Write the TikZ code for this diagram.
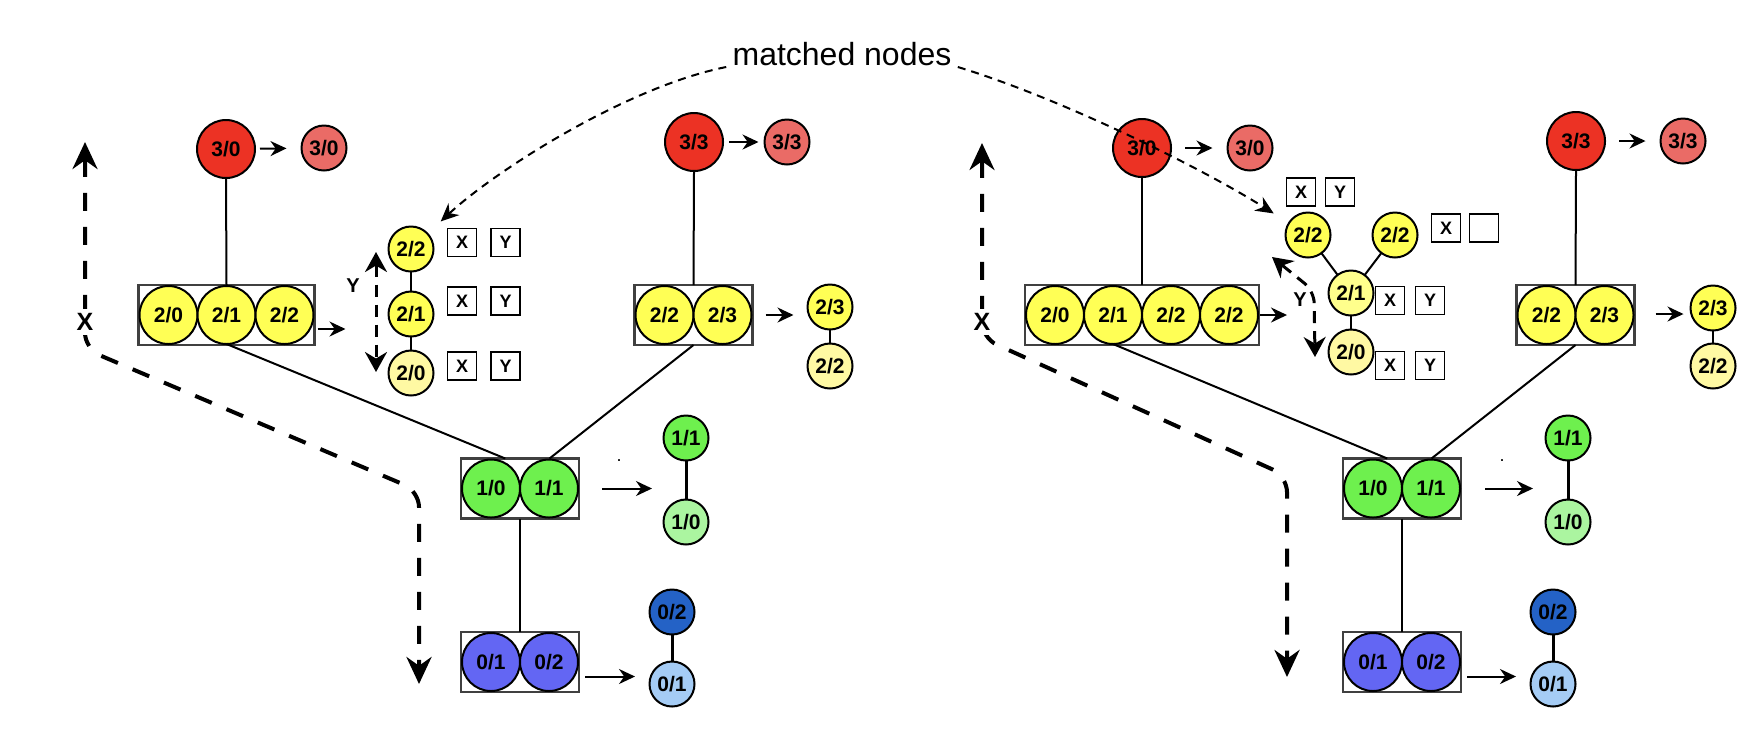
\documentclass[tikz,border=0pt]{standalone}
\usepackage{fontspec}
\setmainfont{Liberation Sans}
\usepackage{tikz}
\usetikzlibrary{arrows.meta,calc,positioning}
\definecolor{redfill}{HTML}{EC3224}
\definecolor{pinkfill}{HTML}{EA6B66}
\definecolor{yellowfill}{HTML}{FFFF55}
\definecolor{midyellow}{HTML}{FFFF8C}
\definecolor{paleyellow}{HTML}{FFF9A3}
\definecolor{greenfill}{HTML}{6EF04E}
\definecolor{palegreen}{HTML}{ABF5A0}
\definecolor{bluefill}{HTML}{6366F3}
\definecolor{navyfill}{HTML}{2462C6}
\definecolor{skyfill}{HTML}{A5CCF5}
\newcommand{\circtext}{\fontsize{10.5}{12}\selectfont\bfseries}
\newcommand{\flagtext}{\fontsize{9}{10}\selectfont\bfseries}
\tikzstyle{bignode}=[
  circle,
  draw=black,
  font=\circtext,
  inner sep=0pt,
  line width=1pt,
  minimum size=29pt,
  outer sep=0pt,
]
\tikzstyle{smallnode}=[
  circle,
  draw=black,
  font=\circtext,
  inner sep=0pt,
  line width=1pt,
  minimum size=22.5pt,
  outer sep=0pt,
]
\tikzstyle{holder}=[
  rectangle,
  draw=black!75,
  fill=white,
  inner sep=0pt,
  line width=1.3pt,
  minimum height=30pt,
  outer sep=0pt,
]
\tikzstyle{flag}=[
  rectangle,
  draw=black,
  fill=white,
  font=\flagtext,
  inner sep=0pt,
  line width=0.75pt,
  minimum height=14pt,
  minimum width=14.5pt,
]
\tikzstyle{link}=[
  draw=black,
  line width=1pt,
]
\tikzstyle{arrow}=[
  draw=black,
  line width=1pt,
  ->,
]
\tikzstyle{sweep}=[
  draw=black,
  line width=2pt,
  dash pattern=on 9pt off 8pt,
  rounded corners=8pt,
  >={Stealth[length=13.5pt,width=12.5pt]},
  <->,
]
\tikzstyle{yaxis}=[
  draw=black,
  line width=1.5pt,
  dash pattern=on 6pt off 4pt,
  >={Stealth[length=10pt,width=11pt]},
  <->,
]
\tikzstyle{matchline}=[
  draw=black,
  line width=1pt,
  dash pattern=on 4pt off 3pt,
  >={Stealth[length=9pt,width=8pt]},
  ->,
  shorten >=9pt,
]
\tikzstyle{xlabel}=[
  font={\fontsize{12.5}{14}\selectfont\bfseries},
  inner sep=2pt,
]
\tikzstyle{ylabel}=[
  font={\fontsize{10}{12}\selectfont\bfseries},
  inner sep=1pt,
]
\tikzset{
  node distance=0pt,
  >={Stealth[length=8pt,width=7.5pt]},
}
\begin{document}
\begin{tikzpicture}[x=0.5pt, y=-0.5pt]
  \fill [white] (0,0) rectangle (1754,730);
  \useasboundingbox (0,0) rectangle (1754,730);

  % left tree
  \node (L30) [bignode, fill=redfill] at (226,149) {3/0};
  \node (L30b) [smallnode, fill=pinkfill] at (324,148) {3/0};
  \node (Lb2) [holder, minimum width=88pt] at (226.5,315) {};
  \node (L20) [bignode, fill=yellowfill, right=0.5pt of Lb2.west] {2/0};
  \node (L21) [bignode, fill=yellowfill, right=0pt of L20] {2/1};
  \node (L22) [bignode, fill=yellowfill, right=0pt of L21] {2/2};
  \node (Lc22) [smallnode, fill=yellowfill] at (411,249) {2/2};
  \node (Lc21) [smallnode, fill=yellowfill] at (411,314) {2/1};
  \node (Lc20) [smallnode, fill=paleyellow] at (411,373) {2/0};
  \node (LfX2) [flag] at (462,242.5) {X};
  \node (LfY2) [flag] at (505.5,242.5) {Y};
  \node (LfX1) [flag] at (462,301) {X};
  \node (LfY1) [flag] at (505.5,301) {Y};
  \node (LfX0) [flag] at (462,366) {X};
  \node (LfY0) [flag] at (505.5,366) {Y};
  \node (L33) [bignode, fill=redfill] at (694,142) {3/3};
  \node (L33b) [smallnode, fill=pinkfill] at (787,142) {3/3};
  \node (Lb3) [holder, minimum width=59pt] at (693.5,315) {};
  \node (Lq22) [bignode, fill=yellowfill, right=0.5pt of Lb3.west] {2/2};
  \node (Lq23) [bignode, fill=yellowfill, right=0pt of Lq22] {2/3};
  \node (Ls23) [smallnode, fill=yellowfill] at (830,307) {2/3};
  \node (Ls22) [smallnode, fill=paleyellow] at (830,366) {2/2};
  \node (Lb1) [holder, minimum width=59pt] at (520,488.5) {};
  \node (L10) [bignode, fill=greenfill, right=0.5pt of Lb1.west] {1/0};
  \node (L11) [bignode, fill=greenfill, right=0pt of L10] {1/1};
  \node (Lg11) [smallnode, fill=greenfill] at (686,438) {1/1};
  \node (Lg10) [smallnode, fill=palegreen] at (686,522) {1/0};
  \node (Ldot) [inner sep=0pt, anchor=base, font=\fontsize{9}{9}\selectfont] at (619,461) {.};
  \node (Lb0) [holder, minimum width=59pt] at (520,662) {};
  \node (L01) [bignode, fill=bluefill, right=0.5pt of Lb0.west] {0/1};
  \node (L02) [bignode, fill=bluefill, right=0pt of L01] {0/2};
  \node (Lu02) [smallnode, fill=navyfill] at (672,612) {0/2};
  \node (Lu01) [smallnode, fill=skyfill] at (672,684) {0/1};

  \draw [link] (L30.south) -- (Lb2.north);
  \draw [link] (L21.south) -- ($(Lb1.north west)!0.375!(Lb1.north east)$);
  \draw [link] (L33.south) -- (Lb3.north);
  \draw [link] (Lb3.south) -- ($(Lb1.north west)!0.75!(Lb1.north east)$);
  \draw [link] (Lb1.south) -- (Lb0.north);
  \draw [link] (Lc22) -- (Lc21);
  \draw [link] (Lc21) -- (Lc20);
  \draw [link] (Ls23) -- (Ls22);
  \draw [link, line width=1.5pt] (Lg11) -- (Lg10);
  \draw [link, line width=1.5pt] (Lu02) -- (Lu01);

  \draw [arrow, shorten <=2.5pt, shorten >=7.5pt] (L30) -- (L30b);
  \draw [arrow, shorten <=3pt, shorten >=3pt] (L33) -- (L33b);
  \draw [arrow] ($(Lb2.east)+(3,14)$) -- +(28,0);
  \draw [arrow] ($(Lb3.east)+(13,0)$) -- +(28,0);
  \draw [arrow] ($(Lb1.east)+(23,0)$) -- +(50,0);
  \draw [arrow] ($(Lb0.east)+(6,14.5)$) -- +(50,0);

  \coordinate (LxTop) at (85,142);
  \coordinate (LxTurn) at (85,349);
  \coordinate (LxBend) at (419,491);
  \coordinate (LxEnd) at (419,684);
  \draw [sweep] (LxTop) -- (LxTurn) -- (LxBend) -- (LxEnd);
  \node (Lx) [xlabel, fill=white] at (85,322) {X};
  \coordinate (LyTop) at (376,252);
  \coordinate (LyBot) at (376,372);
  \draw [yaxis] (LyTop) -- (LyBot);
  \node (Ly) [ylabel] at (353,286) {Y};

  % right tree
  \node (R30) [bignode, fill=redfill] at (1142,148) {3/0};
  \node (R30b) [smallnode, fill=pinkfill] at (1250,148) {3/0};
  \node (Rb2) [holder, minimum width=117pt] at (1142,315) {};
  \node (R20) [bignode, fill=yellowfill, right=0.5pt of Rb2.west] {2/0};
  \node (R21) [bignode, fill=yellowfill, right=0pt of R20] {2/1};
  \node (R22) [bignode, fill=yellowfill, right=0pt of R21] {2/2};
  \node (R22b) [bignode, fill=yellowfill, right=0pt of R22] {2/2};
  \node (Rf22) [smallnode, fill=yellowfill] at (1308,235) {2/2};
  \node (Rf22b) [smallnode, fill=yellowfill] at (1395,235) {2/2};
  \node (Rf21) [smallnode, fill=midyellow] at (1351,293) {2/1};
  \node (Rf20) [smallnode, fill=paleyellow] at (1351,352) {2/0};
  \node (RfX3) [flag] at (1301,192) {X};
  \node (RfY3) [flag] at (1340,192) {Y};
  \node (RfX2) [flag] at (1446,228) {X};
  \node (RfE2) [flag] at (1484,228) {};
  \node (RfX1) [flag] at (1390,300.5) {X};
  \node (RfY1) [flag] at (1430,300.5) {Y};
  \node (RfX0) [flag] at (1390,365.5) {X};
  \node (RfY0) [flag] at (1430,365.5) {Y};
  \node (R33) [bignode, fill=redfill] at (1576,141) {3/3};
  \node (R33b) [smallnode, fill=pinkfill] at (1683,141) {3/3};
  \node (Rb3) [holder, minimum width=59pt] at (1575.5,315) {};
  \node (Rq22) [bignode, fill=yellowfill, right=0.5pt of Rb3.west] {2/2};
  \node (Rq23) [bignode, fill=yellowfill, right=0pt of Rq22] {2/3};
  \node (Rs23) [smallnode, fill=yellowfill] at (1713,308) {2/3};
  \node (Rs22) [smallnode, fill=paleyellow] at (1713,366) {2/2};
  \node (Rb1) [holder, minimum width=59pt] at (1402,488.5) {};
  \node (R10) [bignode, fill=greenfill, right=0.5pt of Rb1.west] {1/0};
  \node (R11) [bignode, fill=greenfill, right=0pt of R10] {1/1};
  \node (Rg11) [smallnode, fill=greenfill] at (1568,438) {1/1};
  \node (Rg10) [smallnode, fill=palegreen] at (1568,522) {1/0};
  \node (Rdot) [inner sep=0pt, anchor=base, font=\fontsize{9}{9}\selectfont] at (1502,461) {.};
  \node (Rb0) [holder, minimum width=59pt] at (1402,662) {};
  \node (R01) [bignode, fill=bluefill, right=0.5pt of Rb0.west] {0/1};
  \node (R02) [bignode, fill=bluefill, right=0pt of R01] {0/2};
  \node (Ru02) [smallnode, fill=navyfill] at (1553,612) {0/2};
  \node (Ru01) [smallnode, fill=skyfill] at (1553,684) {0/1};

  \draw [link] (R30.south) -- (Rb2.north);
  \draw [link] (R21.south) -- ($(Rb1.north west)!0.375!(Rb1.north east)$);
  \draw [link] (R33.south) -- (Rb3.north);
  \draw [link] (Rb3.south) -- ($(Rb1.north west)!0.75!(Rb1.north east)$);
  \draw [link] (Rb1.south) -- (Rb0.north);
  \draw [link] (Rf21) -- (Rf22);
  \draw [link] (Rf21) -- (Rf22b);
  \draw [link] (Rf21) -- (Rf20);
  \draw [link] (Rs23) -- (Rs22);
  \draw [link, line width=1.5pt] (Rg11) -- (Rg10);
  \draw [link, line width=1.5pt] (Ru02) -- (Ru01);

  \draw [arrow, shorten <=7pt, shorten >=7.5pt] (R30) -- (R30b);
  \draw [arrow, shorten <=7pt, shorten >=7.5pt] (R33) -- (R33b);
  \draw [arrow] ($(Rb2.east)+(1,0)$) -- +(27,0);
  \draw [arrow] ($(Rb3.east)+(21,-1)$) -- +(28,0);
  \draw [arrow] ($(Rb1.east)+(24,0)$) -- +(48,0);
  \draw [arrow] ($(Rb0.east)+(6,14.5)$) -- +(49,0);

  \coordinate (RxTop) at (982,143);
  \coordinate (RxTurn) at (982,338);
  \coordinate (RxBend) at (1287,476);
  \coordinate (RxEnd) at (1287,677);
  \draw [sweep] (RxTop) -- (RxTurn) -- (RxBend) -- (RxEnd);
  \node (Rx) [xlabel, fill=white] at (982,322) {X};
  \coordinate (RyTop) at (1272,257);
  \coordinate (RyBend) at (1314,291);
  \coordinate (RyBot) at (1315,357);
  \draw [yaxis, rounded corners=6pt] (RyTop) -- (RyBend) -- (RyBot);
  \node (Ry) [ylabel] at (1300,300) {Y};

  % matched nodes
  \node (matched) [font=\fontsize{16}{19}\selectfont, inner sep=3pt] at (842,54) {matched nodes};
  \draw [matchline] ($(matched.west)+(0,13)$) .. controls (626,87) and (495,171) .. (Lc22);
  \draw [matchline] ($(matched.east)+(0,13)$) .. controls (1060,98) and (1200,167) .. (Rf22);
\end{tikzpicture}
\end{document}
